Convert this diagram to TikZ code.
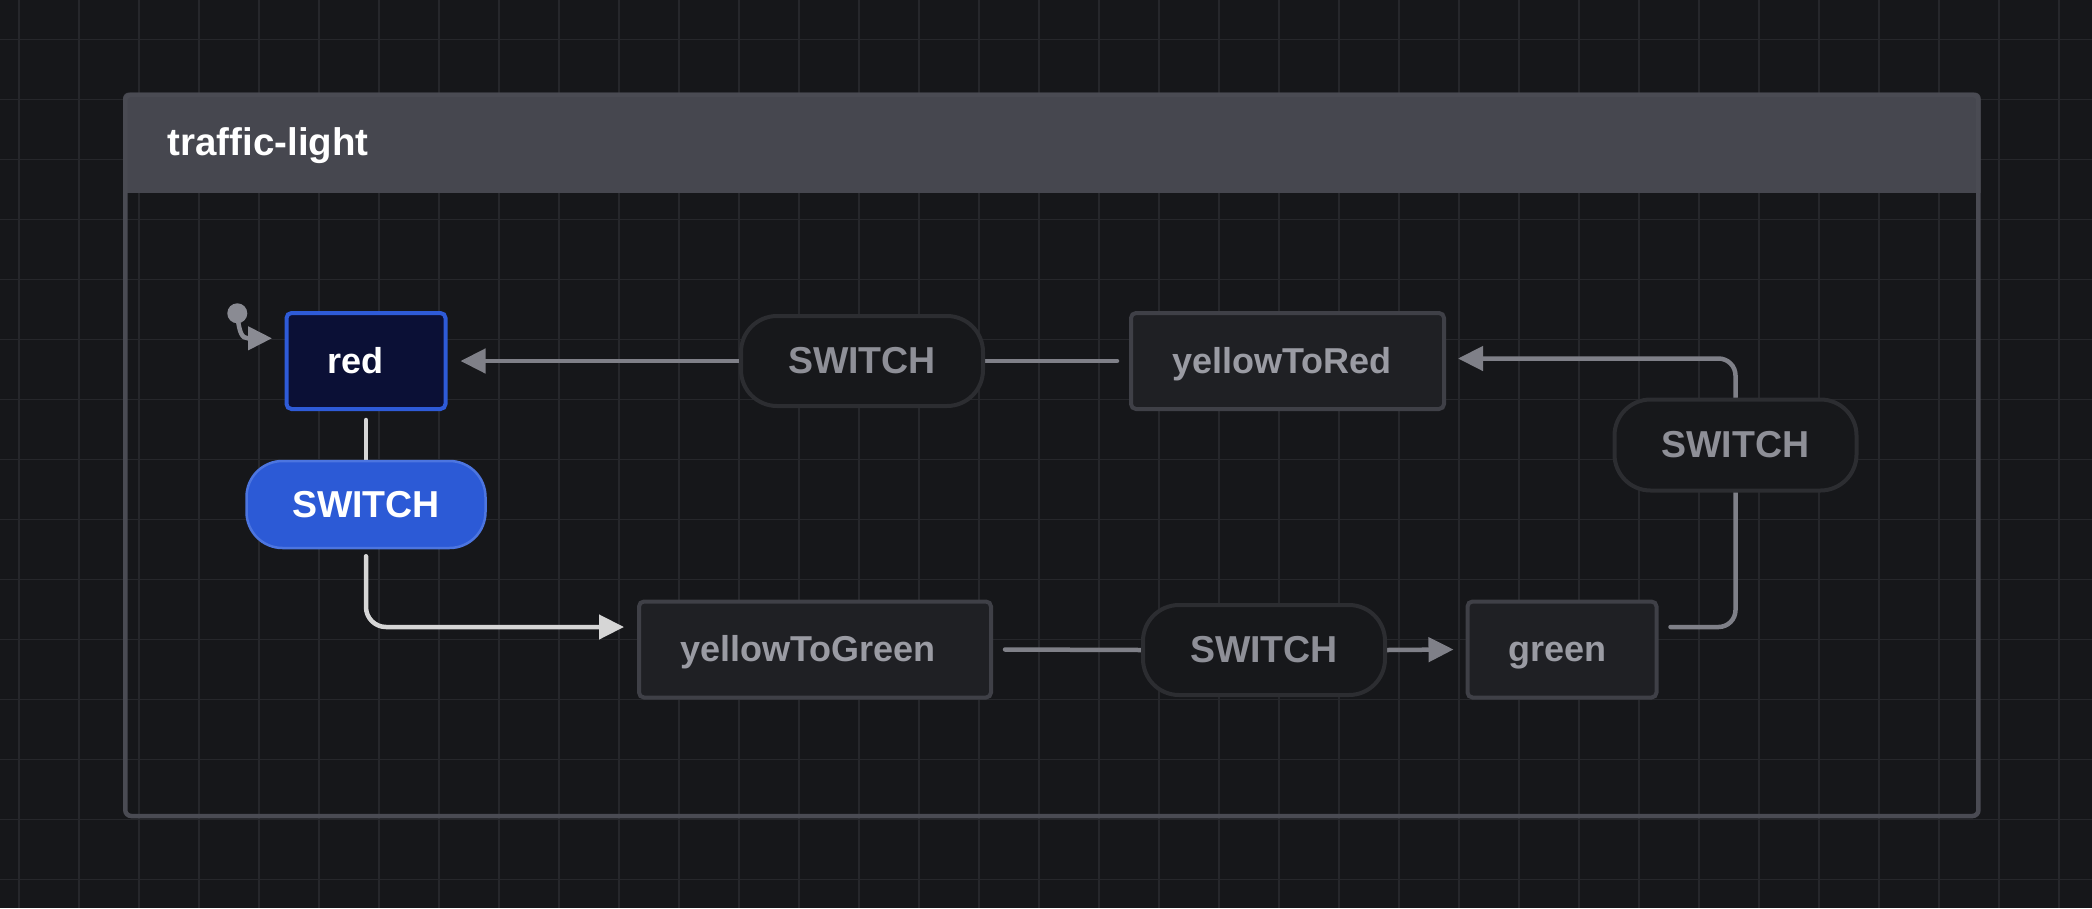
\documentclass[tikz,border=0pt]{standalone}
\usepackage{fontspec}
\setmainfont{Liberation Sans}
\usetikzlibrary{arrows.meta}
\definecolor{bgc}{HTML}{16171A}
\definecolor{gridc}{HTML}{26272B}
\definecolor{headc}{HTML}{46474F}
\definecolor{cbord}{HTML}{4A4B53}
\definecolor{statefill}{HTML}{1F2024}
\definecolor{statebord}{HTML}{3F4047}
\definecolor{statetext}{HTML}{9A9BA3}
\definecolor{pillfill}{HTML}{17181B}
\definecolor{pillbord}{HTML}{2C2D31}
\definecolor{pilltext}{HTML}{8E8F97}
\definecolor{edgec}{HTML}{7F8088}
\definecolor{initc}{HTML}{8A8B93}
\definecolor{redfill}{HTML}{0B1036}
\definecolor{redbord}{HTML}{2E5BD8}
\definecolor{actfill}{HTML}{2C5AD6}
\definecolor{actbord}{HTML}{4C75E0}
\definecolor{actedge}{HTML}{D6D6D6}
\pgfdeclarelayer{gridlayer}
\pgfdeclarelayer{edgelayer}
\pgfsetlayers{gridlayer,edgelayer,main}
\begin{document}
\begin{tikzpicture}[x=1pt,y=-1pt,
  statebox/.style={draw=statebord, fill=statefill, line width=4pt, rounded corners=5pt,
    minimum height=96pt, inner xsep=41pt, inner ysep=0pt, text height=26pt, text depth=2pt,
    align=left, text=statetext, font=\fontsize{36}{40}\selectfont\bfseries},
  eventbox/.style={draw=pillbord, fill=pillfill, line width=4pt, rounded corners=36pt,
    minimum width=242pt, minimum height=90pt, inner sep=0pt, text height=27pt, text depth=2pt,
    text=pilltext, font=\fontsize{37.5}{42}\selectfont\bfseries},
  edge/.style={draw=edgec, line width=4.5pt, line cap=round},
  actedgestyle/.style={draw=actedge, line width=4.5pt, line cap=round},
  tipg/.style={-{Triangle[length=25pt,width=24pt]}},
  gridline/.style={draw=gridc, line width=1.6pt}
]
\useasboundingbox (0,0) rectangle (2092,908);
\begin{pgfonlayer}{gridlayer}
\fill[bgc] (0,0) rectangle (2092,908);
\foreach \i in {0,...,34} \draw[gridline] ({19+60*\i},0) -- ({19+60*\i},908);
\foreach \j in {0,...,14} \draw[gridline] (0,{39.3+60*\j}) -- (2092,{39.3+60*\j});
\begin{scope}
\clip (0,0) rectangle (2092,192.7);
\fill[headc, rounded corners=6pt] (123,92.5) rectangle (1980.7,230);
\end{scope}
\draw[cbord, line width=4.5pt, rounded corners=6pt] (125.25,94.75) rectangle (1978.45,816);
\end{pgfonlayer}

\node[anchor=base west, text=white, font=\fontsize{38.5}{44}\selectfont\bfseries] (title) at (164,155) {traffic-light};

\node[statebox, draw=redbord, fill=redfill, text=white, text width=77pt] (red) at (366,361) {red};
\node[statebox, text width=231pt] (ytr) at (1287.5,361) {yellowToRed};
\node[statebox, text width=270pt] (ytg) at (815,649.5) {yellowToGreen};
\node[statebox, text width=107pt] (green) at (1562,649.5) {green};

\node[eventbox] (sTop) at (862,361) {SWITCH};
\node[eventbox, minimum height=91pt] (sRight) at (1735.5,445) {SWITCH};
\node[eventbox] (sBot) at (1264,650) {SWITCH};
\node[eventbox, draw=actbord, fill=actfill, text=white, line width=2.5pt, minimum width=239pt, minimum height=87pt] (sAct) at (366,504.5) {SWITCH};

\node[circle, fill=initc, minimum size=20pt, inner sep=0pt] (init) at (237.3,313.3) {};

\begin{pgfonlayer}{edgelayer}
\draw[draw=initc, line width=4.5pt, line cap=round, -{Triangle[length=24pt,width=23pt]}]
  (init.center) .. controls (239,333) and (242,338.3) .. (248,338.3) -- ([xshift=-12.5pt,yshift=22.7pt]red.west);
\draw[edge, tipg] (sTop.west) -- ([xshift=13pt]red.east);
\draw[edge] ([xshift=-12pt]ytr.west) -- (sTop.east);
\draw[edge, rounded corners=17pt] ([xshift=12pt,yshift=22.5pt]green.east) -| (sRight.south);
\draw[edge, tipg, rounded corners=17pt] (sRight.north) |- ([xshift=12pt,yshift=2.5pt]ytr.east);
\draw[actedgestyle] ([yshift=-9pt]red.south) -- (sAct.north);
\draw[actedgestyle, tipg, rounded corners=20pt] ([yshift=-7pt]sAct.south) |- ([xshift=-13pt,yshift=22.5pt]ytg.west);
\draw[edge] ([xshift=12pt]ytg.east) -- (sBot.west);
\draw[edge, tipg] (sBot.east) -- ([xshift=-12pt]green.west);
\end{pgfonlayer}
\end{tikzpicture}
\end{document}
